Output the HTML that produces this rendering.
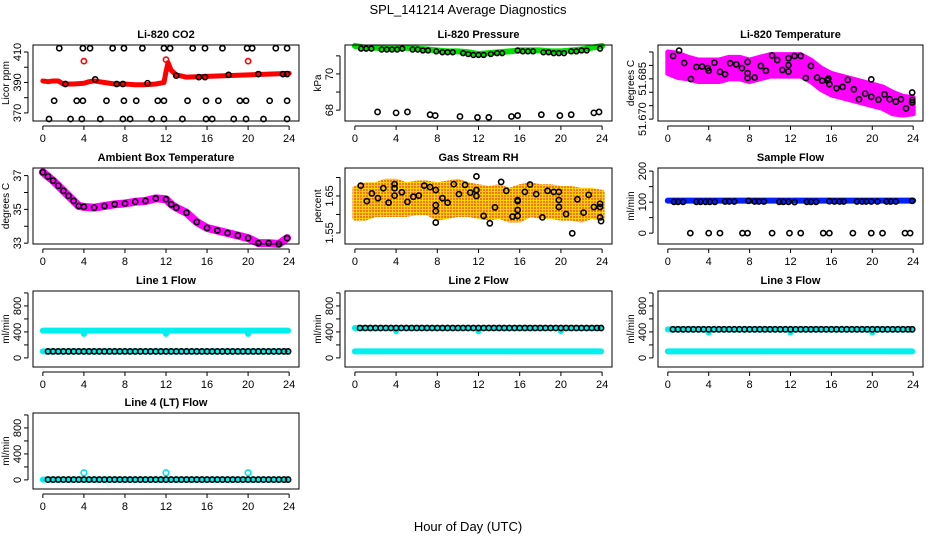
<!DOCTYPE html>
<html><head><meta charset="utf-8">
<style>
html,body{margin:0;padding:0;background:#fff;}
svg{display:block;font-family:"Liberation Sans",Arial,sans-serif;}
.tl{font-size:11px;fill:#000;}
.tt{font-size:11px;font-weight:bold;fill:#000;}
</style></head>
<body>
<svg id="fig" width="936" height="540" viewBox="0 0 936 540">
<defs>
<pattern id="rhpat" width="3" height="3" patternUnits="userSpaceOnUse"><rect width="3" height="3" fill="#ffd000"/><rect width="2" height="2" fill="#f07818"/></pattern>
</defs>
<text x="468" y="14" text-anchor="middle" style="font-size:13px">SPL_141214  Average Diagnostics</text>
<text x="468" y="531" text-anchor="middle" style="font-size:13px">Hour of Day (UTC)</text>
</svg>
<script>
// ---------- data ----------
const xTicks=[0,4,8,12,16,20,24];
// CO2
const co2LineX=[0,0.5,1,1.5,2,3,4,4.5,5,6,7,8,9,10,11,11.8,12,12.2,12.5,13,14,16,18,20,22,24];
const co2LineY=[391,390.5,391,391,389,389,389.5,390.5,391,390,389,389,388.5,388.5,389,390,397,403,398,395,393.5,394,394.5,395,395.5,396];
const co2RedOutX=[4,12,20];
const co2RedOutY=[404,405,404];
const co2BlkTopX=[1.6,3.9,4.6,6.8,7.9,9.7,11.8,12.4,14.6,15.8,17.5,19.9,20.4,22.7,23.8];
const co2BlkMidX=[1.1,3.3,3.9,6.2,7.9,9.1,11.2,11.8,14.1,15.9,17.1,19.2,19.8,22.1,23.8];
const co2BlkLowX=[0.6,2.7,3.8,5.6,7.8,8.5,10.6,11.8,13.6,15.9,16.5,18.6,19.8,21.5,23.8];
const co2BlkLevels=[412.5,378,366];
const co2BlkOnX=[2.2,5.1,7.2,7.8,10.2,13.0,15.2,15.8,18.1,21,23.4,23.8];
const co2BlkOnY=[389,392,389,389,389.5,394.5,393.5,393.5,395,395.5,395.5,395.5];
// Pressure
const presX=[0,1,2,3,4,5,6,7,8,9,10,11,12,13,14,15,16,17,18,19,20,21,22,23,24];
const presY=[71.55,71.45,71.45,71.4,71.4,71.45,71.4,71.35,71.3,71.25,71.25,71.2,71.1,71.15,71.2,71.25,71.3,71.3,71.3,71.25,71.25,71.3,71.35,71.45,71.55];
const presBlkX=[0.6,1.1,1.6,2.6,3.1,3.6,4.1,4.6,5.6,6.1,6.6,7.1,7.9,8.5,9.0,9.5,10.5,11.0,11.5,12.0,12.5,13.2,13.8,14.3,15.8,16.3,16.8,17.3,18.3,18.8,19.3,19.8,20.3,21.0,21.5,22.0,22.5,23.8];
const presBlkY=[71.4,71.4,71.4,71.35,71.35,71.35,71.35,71.4,71.35,71.35,71.3,71.3,71.25,71.2,71.2,71.2,71.15,71.1,71.05,71.05,71.05,71.1,71.15,71.15,71.3,71.25,71.25,71.25,71.2,71.2,71.15,71.15,71.15,71.25,71.25,71.3,71.3,71.4];
const presLowX=[2.2,4,5.1,7.3,7.8,10.2,11.9,13,15.2,15.8,18.1,19.9,21,23.2,23.7];
const presLowY=[67.9,67.85,67.9,67.75,67.7,67.65,67.6,67.6,67.65,67.7,67.75,67.7,67.75,67.85,67.9];
// Li-820 Temperature
const tempBandX=[0,1,2,3,4,5,6,7,8,9,10,11,12,13,14,15,16,17,18,19,20,21,22,23,24];
const tempBandC=[51.691,51.690,51.689,51.688,51.688,51.688,51.689,51.689,51.688,51.689,51.690,51.690,51.690,51.690,51.688,51.685,51.683,51.682,51.681,51.680,51.679,51.678,51.676,51.675,51.675];
const tempBandS=[0.004,0.0045,0.004,0.004,0.004,0.004,0.004,0.004,0.004,0.004,0.004,0.004,0.004,0.004,0.004,0.004,0.004,0.004,0.004,0.004,0.004,0.004,0.004,0.0035,0.003];
const tempBlkX=[0.52,1.1,1.6,2.26,2.8,3.35,3.9,4.0,4.55,5.1,5.6,6.1,6.7,7.25,7.8,7.8,7.8,8.5,9.1,9.6,10.2,10.7,11.2,11.8,11.8,11.8,12.4,13.0,13.5,14.0,14.6,15.1,15.6,15.7,15.8,16.5,17.1,17.6,18.2,18.7,19.3,19.9,19.9,20.6,21.2,21.7,22.3,22.8,23.3,23.9,23.9,23.9];
const tempBlkY=[51.6935,51.6955,51.6909,51.6849,51.6894,51.6896,51.689,51.688,51.691,51.6876,51.6867,51.6908,51.6904,51.689,51.6913,51.6871,51.6853,51.6855,51.6898,51.688,51.6937,51.692,51.6883,51.6927,51.6901,51.6877,51.6935,51.6935,51.6853,51.6898,51.6855,51.6843,51.6845,51.6851,51.683,51.6815,51.682,51.6846,51.6811,51.6774,51.6795,51.6848,51.6783,51.6772,51.6792,51.6774,51.6765,51.6774,51.674,51.6799,51.6771,51.6762];
// Ambient
const ambX=[0,0.5,1,1.5,2,2.5,3,3.5,4,5,6,7,8,9,10,11,12,12.5,13,14,15,16,17,18,19,20,21,22,23,23.8];
const ambY=[37.2,36.95,36.7,36.4,36.1,35.8,35.5,35.2,35.15,35.1,35.2,35.3,35.35,35.45,35.5,35.65,35.6,35.3,35.1,34.8,34.25,33.9,33.75,33.6,33.45,33.3,33.0,33.0,32.95,33.3];
// RH
const rhBandX=[0,1,2,3,4,5,6,7,8,9,10,11,12,13,14,15,16,17,18,19,20,21,22,23,24];
const rhBandC=[1.63,1.635,1.64,1.645,1.645,1.64,1.645,1.645,1.635,1.64,1.645,1.64,1.635,1.63,1.635,1.625,1.63,1.64,1.635,1.635,1.63,1.63,1.625,1.63,1.625];
const rhBandS=[0.04,0.045,0.04,0.045,0.045,0.04,0.04,0.04,0.045,0.045,0.045,0.04,0.04,0.04,0.04,0.04,0.045,0.04,0.04,0.04,0.04,0.04,0.04,0.035,0.035];
const rhBlkX=[0.57,1.16,1.65,2.24,2.76,3.27,3.85,3.85,3.85,4.56,5.1,5.67,6.2,6.73,7.3,7.85,7.85,7.85,7.85,8.5,9.0,9.6,10.1,10.7,11.2,11.8,11.8,11.8,12.5,13.1,13.6,14.2,14.7,15.3,15.8,15.8,15.8,15.8,16.5,17.0,17.6,18.2,18.7,19.3,19.8,19.8,19.8,20.5,21.1,21.6,22.2,22.7,23.2,23.8,23.8,23.8,23.9];
const rhBlkY=[1.678,1.636,1.657,1.644,1.671,1.632,1.682,1.671,1.651,1.66,1.634,1.648,1.651,1.678,1.674,1.625,1.609,1.578,1.666,1.644,1.632,1.682,1.655,1.68,1.659,1.703,1.666,1.65,1.596,1.576,1.619,1.688,1.664,1.594,1.596,1.636,1.612,1.639,1.661,1.681,1.655,1.592,1.664,1.661,1.62,1.639,1.661,1.601,1.549,1.641,1.605,1.653,1.62,1.62,1.629,1.592,1.582];
// Sample flow
const sfLineX=[0,24];
const sfLineY=[105,105];
const sfBlkX=[0.6,1.0,1.5,2.8,3.2,3.7,4.1,4.6,5.6,6.0,6.5,7.9,8.5,8.9,9.4,10.9,11.3,11.8,12.4,13.6,14.0,14.5,15.8,16.3,16.8,17.2,18.5,19.0,19.4,19.9,20.5,21.4,21.8,22.3,23.9];
const sfBlkY=[101,101,101,101,101,101,101,101,102,102,102,104,102,102,102,101,101,101,100,101,101,101,103,102,102,102,102,102,102,102,102,102,102,102,104];
const sfZeroX=[2.2,4,5.1,7.3,7.8,10.2,11.9,13,15.2,15.8,18.1,19.9,21,23.2,23.7];
const sfZeroY=[0,0,0,0,0,0,0,0,0,0,0,0,0,0,0];
// Line flows
const halfHours=[0.5,1,1.5,2,2.5,3,3.5,4,4.5,5,5.5,6,6.5,7,7.5,8,8.5,9,9.5,10,10.5,11,11.5,12,12.5,13,13.5,14,14.5,15,15.5,16,16.5,17,17.5,18,18.5,19,19.5,20,20.5,21,21.5,22,22.5,23,23.5,23.9];
const dipX=[0,3.9,4,4.1,11.9,12,12.1,19.9,20,20.1,23.9];
const l1UpperY=[420,420,370,420,420,370,420,420,370,420,420];
const l1LowerY=[100,100,100,100,100,100,100,100,100,100,100];
const l1BlkLevel=[100];
const l2UpperY=[460,460,410,460,460,410,460,460,410,460,460];
const l2LowerY=[100,100,100,100,100,100,100,100,100,100,100];
const l2BlkLevel=[460];
const l3UpperY=[440,440,390,440,440,390,440,440,390,440,440];
const l3LowerY=[100,100,100,100,100,100,100,100,100,100,100];
const l3BlkLevel=[440];
const l4CyanY=[5,5,5,5,5,5,5,5,5,5,5];
const l4BumpX=[4,12,20];
const l4BumpY=[110,110,110];
const l4BlkLevel=[5];

// ---------- rendering ----------
const NS='http://www.w3.org/2000/svg';
const svg=document.getElementById('fig');
function mk(tag,attrs,parent){const e=document.createElementNS(NS,tag);for(const k in attrs)e.setAttribute(k,attrs[k]);(parent||svg).appendChild(e);return e;}
const colL=[33,345,658], colR=[299,612,923];
const rowT=[45,168,291,413], rowH=76;

function panel(col,row,title,ylab,ylim,yticks,ylabels,slug){
  const g=mk('g',{});
  
  
  const L=colL[col],R=colR[col],T=rowT[row],B=T+rowH;
  const pad=0.96;
  const sx=v=>L+(v+pad)/(24+2*pad)*(R-L);
  const sy=v=>B-(v-ylim[0])/(ylim[1]-ylim[0])*(B-T);
  const cg=mk('g',{},g);
  const frame=mk('rect',{x:L,y:T,width:R-L,height:B-T,fill:'none',stroke:'#000','stroke-width':1},g);
  
  
  const t=mk('text',{x:(L+R)/2,y:T-7,'text-anchor':'middle',class:'tt'},g);t.textContent=title;
  
  
  // x axis
  mk('line',{x1:sx(xTicks[0]),x2:sx(xTicks[xTicks.length-1]),y1:B+5,y2:B+5,stroke:'#000'},g);
  xTicks.forEach(v=>{
    mk('line',{x1:sx(v),x2:sx(v),y1:B+5,y2:B+9,stroke:'#000'},g);
    const tx=mk('text',{x:sx(v),y:B+21,'text-anchor':'middle',class:'tl'},g);tx.textContent=v;
    
    
  });
  // y axis
  mk('line',{x1:L-5,x2:L-5,y1:sy(yticks[0]),y2:sy(yticks[yticks.length-1]),stroke:'#000'},g);
  yticks.forEach((v,i)=>{
    mk('line',{x1:L-9,x2:L-5,y1:sy(v),y2:sy(v),stroke:'#000'},g);
    if(ylabels[i]!==''){
      const ty=mk('text',{x:0,y:0,'text-anchor':'middle',class:'tl',transform:`translate(${L-12},${sy(v)}) rotate(-90)`},g);ty.textContent=ylabels[i];
      
      
    }
  });
  const yt=mk('text',{x:0,y:0,'text-anchor':'middle',class:'tl',style:'font-size:10px',transform:`translate(${L-24},${(T+B)/2}) rotate(-90)`},g);yt.textContent=ylab;
  
  
  return {g:cg,sx,sy,slug};
}
function line(p,xs,ys,color,w,name){
  const pts=xs.map((x,i)=>p.sx(x)+','+p.sy(ys[i])).join(' ');
  const e=mk('polyline',{points:pts,fill:'none',stroke:color,'stroke-width':w,'stroke-linejoin':'round','stroke-linecap':'round'},p.g);
  
  
}
function pts(p,xs,ys,color,r,name){
  xs.forEach((x,i)=>{
    const c=mk('circle',{cx:p.sx(x),cy:p.sy(ys[i]),r:r||2.6,fill:'none',stroke:color,'stroke-width':1.6},p.g);
    
    
  });
}
function levelPts(p,xs,level,color,name){
  xs.forEach(x=>{
    const c=mk('circle',{cx:p.sx(x),cy:p.sy(level),r:2.6,fill:'none',stroke:color,'stroke-width':1.6},p.g);
    
    
  });
}
function band(p,xs,cs,ss,fill,name){
  const up=xs.map((x,i)=>p.sx(x)+','+p.sy(cs[i]+ss[i]));
  const dn=xs.map((x,i)=>p.sx(x)+','+p.sy(cs[i]-ss[i])).reverse();
  const e=mk('polygon',{points:up.concat(dn).join(' '),fill:fill,stroke:fill,'stroke-width':5,'stroke-linejoin':'round'},p.g);
  
  
}

// Panel 1: CO2
let p=panel(0,0,'Li-820 CO2','Licor ppm',[364.7,414.6],[370,380,390,400,410],['370','','390','','410'],'co2');
line(p,co2LineX,co2LineY,'#ff0000',5,'co2-red-series');
pts(p,co2RedOutX,co2RedOutY,'#ff0000',2.6,'co2-red-outlier');
levelPts(p,co2BlkTopX,co2BlkLevels[0],'#000','co2-black-point');
levelPts(p,co2BlkMidX,co2BlkLevels[1],'#000','co2-black-point');
levelPts(p,co2BlkLowX,co2BlkLevels[2],'#000','co2-black-point');
pts(p,co2BlkOnX,co2BlkOnY,'#000',2.6,'co2-black-point');

// Panel 2: Pressure
p=panel(1,0,'Li-820 Pressure','kPa',[67.4,71.6],[68,69,70,71],['68','','70',''],'pressure');
line(p,presX,presY,'#00e000',6,'pressure-green-series');
pts(p,presBlkX,presBlkY,'#000',2.4,'pressure-black-point');
pts(p,presLowX,presLowY,'#000',2.6,'pressure-low-point');

// Panel 3: Temperature
p=panel(2,0,'Li-820 Temperature','degrees C',[51.6693,51.6976],[51.670,51.675,51.680,51.685,51.690,51.695],['51.670','','','51.685','',''],'li820-temp');
band(p,tempBandX,tempBandC,tempBandS,'#ff00ff','li820-temp-magenta-cloud');
pts(p,tempBlkX,tempBlkY,'#000',2.6,'li820-temp-black-point');

// Panel 4: Ambient
p=panel(0,1,'Ambient Box Temperature','degrees C',[32.95,37.45],[33,34,35,36,37],['33','','35','','37'],'ambient');
line(p,ambX,ambY,'#ff00ff',8,'ambient-magenta-series');
pts(p,ambX,ambY,'#000',2.6,'ambient-black-point');

// Panel 5: RH
p=panel(1,1,'Gas Stream RH','percent',[1.520,1.7257],[1.55,1.60,1.65,1.70],['1.55','','1.65',''],'rh');
band(p,rhBandX,rhBandC,rhBandS,'url(#rhpat)','rh-orange-cloud');
pts(p,rhBlkX,rhBlkY,'#000',2.6,'rh-black-point');

// Panel 6: Sample flow
p=panel(2,1,'Sample Flow','ml/min',[-35,210],[0,50,100,150,200],['0','','100','','200'],'sample-flow');
line(p,sfLineX,sfLineY,'#0020ff',6,'sample-flow-blue-series');
pts(p,sfBlkX,sfBlkY,'#000',2.6,'sample-flow-black-point');
pts(p,sfZeroX,sfZeroY,'#000',2.6,'sample-flow-zero-point');

const fLim=[-140,1030], fT=[0,200,400,600,800,1000], fL=['0','','400','','800',''];
// Line 1
p=panel(0,2,'Line 1 Flow','ml/min',fLim,fT,fL,'line1');
line(p,dipX,l1UpperY,'#00f0f0',6,'line1-cyan-upper');
line(p,dipX,l1LowerY,'#00f0f0',6,'line1-cyan-lower');
levelPts(p,halfHours,l1BlkLevel[0],'#000','line1-black-point');
// Line 2
p=panel(1,2,'Line 2 Flow','ml/min',fLim,fT,fL,'line2');
line(p,dipX,l2UpperY,'#00f0f0',6,'line2-cyan-upper');
line(p,dipX,l2LowerY,'#00f0f0',6,'line2-cyan-lower');
levelPts(p,halfHours,l2BlkLevel[0],'#000','line2-black-point');
// Line 3
p=panel(2,2,'Line 3 Flow','ml/min',fLim,fT,fL,'line3');
line(p,dipX,l3UpperY,'#00f0f0',6,'line3-cyan-upper');
line(p,dipX,l3LowerY,'#00f0f0',6,'line3-cyan-lower');
levelPts(p,halfHours,l3BlkLevel[0],'#000','line3-black-point');
// Line 4
p=panel(0,3,'Line 4 (LT) Flow','ml/min',fLim,fT,fL,'line4');
line(p,dipX,l4CyanY,'#00f0f0',6,'line4-cyan-series');
pts(p,l4BumpX,l4BumpY,'#00e0e0',2.8,'line4-cyan-outlier');
levelPts(p,halfHours,l4BlkLevel[0],'#000','line4-black-point');
</script>
</body></html>
